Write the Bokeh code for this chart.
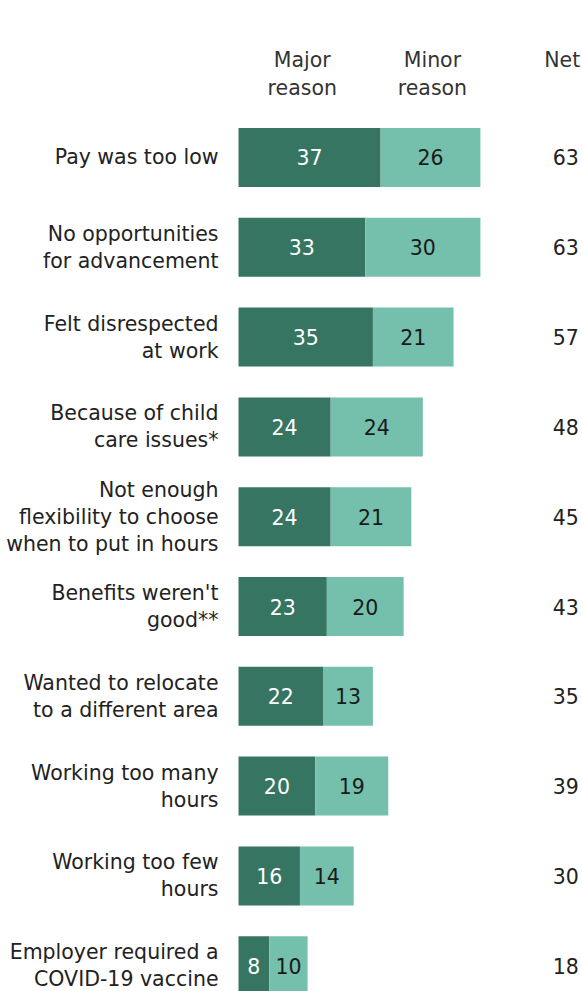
from bokeh.plotting import figure
from bokeh.models import ColumnDataSource, Range1d
from bokeh.core.properties import value
from bokeh.embed import file_html
from bokeh.resources import INLINE

categories = [
    "Pay was too low",
    "No opportunities\nfor advancement",
    "Felt disrespected\nat work",
    "Because of child\ncare issues*",
    "Not enough\nflexibility to choose\nwhen to put in hours",
    "Benefits weren't\ngood**",
    "Wanted to relocate\nto a different area",
    "Working too many\nhours",
    "Working too few\nhours",
    "Employer required a\nCOVID-19 vaccine",
]
major = [37, 33, 35, 24, 24, 23, 22, 20, 16, 8]
minor = [26, 30, 21, 24, 21, 20, 13, 19, 14, 10]
net = [63, 63, 57, 48, 45, 43, 35, 39, 30, 18]
headers = ["Major\nreason", "Minor\nreason", "Net"]

DARK = "#367562"
LIGHT = "#74c0ac"
FONT = value("DejaVu Sans")
FS = "20.5px"
LH = 1.13

rows = list(range(len(categories)))
src = ColumnDataSource(dict(
    y=rows,
    cat=categories,
    major=major,
    minor=minor,
    net=net,
    total=[a + b for a, b in zip(major, minor)],
    major_mid=[a / 2 for a in major],
    minor_mid=[a + b / 2 for a, b in zip(major, minor)],
    major_txt=[str(v) for v in major],
    minor_txt=[str(v) for v in minor],
    net_txt=[str(v) for v in net],
    zero=[0] * len(rows),
    netx=[88.6] * len(rows),
))

p = figure(width=582, height=991, output_backend="svg", toolbar_location=None,
           x_range=Range1d(-61.98, 89.58), y_range=Range1d(9.287, -1.748),
           min_border=0)
p.axis.visible = False
p.grid.visible = False
p.outline_line_color = None
p.background_fill_color = "white"

bh = 0.657
p.hbar(y="y", left="zero", right="major", height=bh, source=src,
       fill_color=DARK, line_color=None)
p.hbar(y="y", left="major", right="total", height=bh, source=src,
       fill_color=LIGHT, line_color=None)

p.text(x="major_mid", y="y", text="major_txt", source=src, text_color="white",
       text_font=FONT, text_font_size=FS, text_align="center", text_baseline="middle")
p.text(x="minor_mid", y="y", text="minor_txt", source=src, text_color="#1a1a1a",
       text_font=FONT, text_font_size=FS, text_align="center", text_baseline="middle")
p.text(x="zero", y="y", text="cat", source=src, x_offset=-20, text_color="#222222",
       text_font=FONT, text_font_size=FS, text_align="right", text_baseline="middle",
       text_line_height=LH)
p.text(x="netx", y="y", text="net_txt", source=src, text_color="#222222",
       text_font=FONT, text_font_size=FS, text_align="right", text_baseline="middle")

hsrc = ColumnDataSource(dict(
    x=[16.6, 50.5, 89.0],
    y=[-0.93, -0.93, -1.08],
    t=headers,
    align=["center", "center", "right"],
))
p.text(x="x", y="y", text="t", source=hsrc, text_color="#333333",
       text_font=FONT, text_font_size=FS, text_align="align", text_baseline="middle",
       text_line_height=LH)

open("out.html", "w").write(file_html(p, INLINE))
